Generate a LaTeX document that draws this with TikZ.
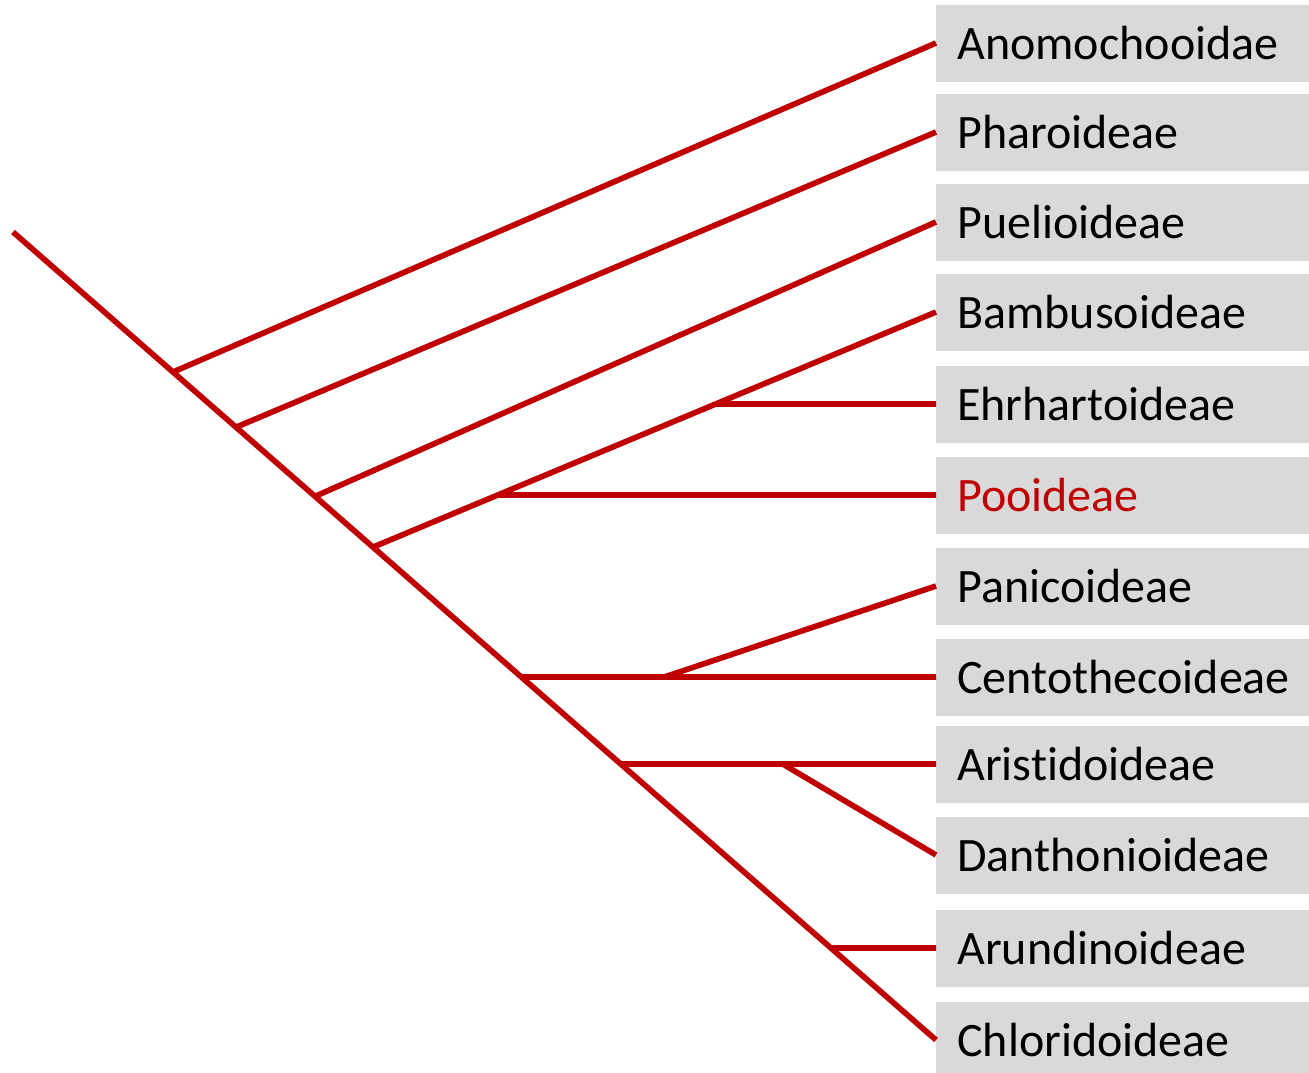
\documentclass[tikz,border=0pt]{standalone}
\usepackage{fontspec}
\setmainfont{Carlito}[Ligatures=NoCommon]
\definecolor{cladered}{HTML}{C00000}
\definecolor{boxgray}{HTML}{D9D9D9}

\begin{document}
\begin{tikzpicture}
[x=0.75pt,y=-0.75pt,
taxon/.style={rectangle,fill=boxgray,anchor=west,inner xsep=15.75pt,inner ysep=0pt,minimum height=57.75pt,text width=248.25pt,align=left,font=\fontsize{36}{40}\selectfont},
edge/.style={draw=cladered,line width=4.25pt}]
\useasboundingbox (0,0) rectangle (1309,1072);
\node[taxon] at (936,43) (anom) {Anomochooidae};
\node[taxon] at (936,132) (phar) {Pharoideae};
\node[taxon] at (936,222) (puel) {Puelioideae};
\node[taxon] at (936,312) (bamb) {Bambusoideae};
\node[taxon] at (936,404) (ehrh) {Ehrhartoideae};
\node[taxon,text=cladered] at (936,495) (pooi) {Pooideae};
\node[taxon] at (936,586) (pani) {Panicoideae};
\node[taxon] at (936,677) (cent) {Centothecoideae};
\node[taxon] at (936,764) (aris) {Aristidoideae};
\node[taxon] at (936,855) (dant) {Danthonioideae};
\node[taxon] at (936,948) (arun) {Arundinoideae};
\node[taxon] at (936,1040) (chlo) {Chloridoideae};
\coordinate (root) at (13,232);
% trunk
\draw[edge] (root) -- coordinate[pos=0.1733] (j1) coordinate[pos=0.2416] (j2)
  coordinate[pos=0.3272] (j3) coordinate[pos=0.390] (j4) coordinate[pos=0.5507] (j7)
  coordinate[pos=0.6584] (j9) coordinate[pos=0.886] (j11) (chlo.west);
\draw[edge] (j1) -- (anom.west);
\draw[edge] (j2) -- (phar.west);
\draw[edge] (j3) -- (puel.west);
\draw[edge] (j4) -- coordinate[pos=0.2216] (j6) coordinate[pos=0.609] (j5) (bamb.west);
\draw[edge] (j5) -- (ehrh.west);
\draw[edge] (j6) -- (pooi.west);
\draw[edge] (j7) -- coordinate[pos=0.345] (j8) (cent.west);
\draw[edge] (j8) -- (pani.west);
\draw[edge] (j9) -- coordinate[pos=0.514] (j10) (aris.west);
\draw[edge] (j10) -- (dant.west);
\draw[edge] (j11) -- (arun.west);
\end{tikzpicture}
\end{document}
